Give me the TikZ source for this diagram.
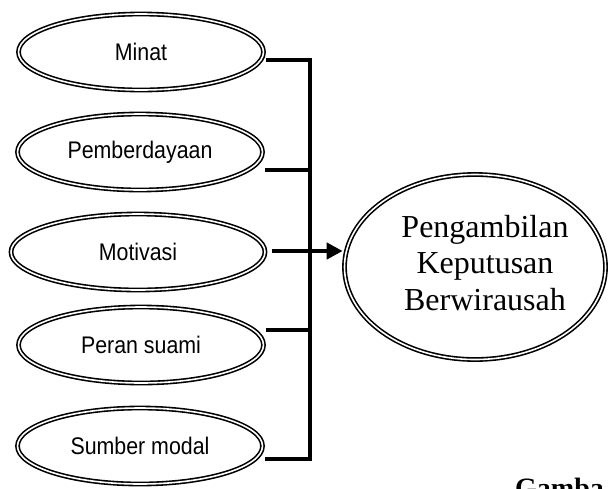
\documentclass[tikz,border=0pt]{standalone}
\usepackage{fontspec}
\setmainfont{Liberation Serif}
\newfontfamily\lblfont[FakeStretch=0.89]{Liberation Sans}
\usetikzlibrary{shapes.geometric,arrows.meta}
\begin{document}
\begin{tikzpicture}[x=1pt,y=-1pt,
  dbl/.style={ellipse,draw=black,double=white,line width=1.6pt,double distance=1.6pt,inner sep=0pt},
  small/.style={dbl,minimum width=245pt,minimum height=76pt,font=\lblfont\fontsize{24}{28}\selectfont},
  big/.style={dbl,minimum width=261pt,minimum height=185pt},
  bigtext/.style={align=center,inner sep=0pt,font=\fontsize{32}{36.7}\selectfont},
  conn/.style={line width=4.5pt,line join=miter,line cap=butt},
  caption/.style={anchor=base west,inner sep=0pt,font=\bfseries\fontsize{28}{32}\selectfont}]
\clip (0,0) rectangle (609,488);
\useasboundingbox (0,0) rectangle (609,488);
\node[small] (minat) at (141,52) {Minat};
\node[small] (pemb) at (140,152) {Pemberdayaan};
\node[small,minimum width=254pt] (moti) at (138,252) {Motivasi};
\node[small] (peran) at (141,345) {Peran suami};
\node[small] (sumber) at (140,446) {Sumber modal};
\node[big] (keput) at (475,267) {};
\node[bigtext] (keputtext) at (485,263) {Pengambilan\\Keputusan\\Berwirausah};
\coordinate (j1) at (310,60);
\coordinate (j2) at (310,170);
\coordinate (j3) at (310,251);
\coordinate (j4) at (310,330);
\coordinate (j5) at (310,459);
\draw[conn] ([xshift=2pt]minat.east |- j1) -- (j1) -- (j5) -- ([xshift=2pt]sumber.east |- j5);
\draw[conn] ([xshift=2pt]pemb.east |- j2) -- (j2);
\draw[conn] ([xshift=2pt]peran.east |- j4) -- (j4);
\draw[conn,-{Triangle[length=16pt,width=16pt]}] ([xshift=6pt]moti.east |- j3) -- ([xshift=-1pt]keput.west |- j3);
\node[caption] (cap) at (515,497) {Gamba};
\end{tikzpicture}
\end{document}
